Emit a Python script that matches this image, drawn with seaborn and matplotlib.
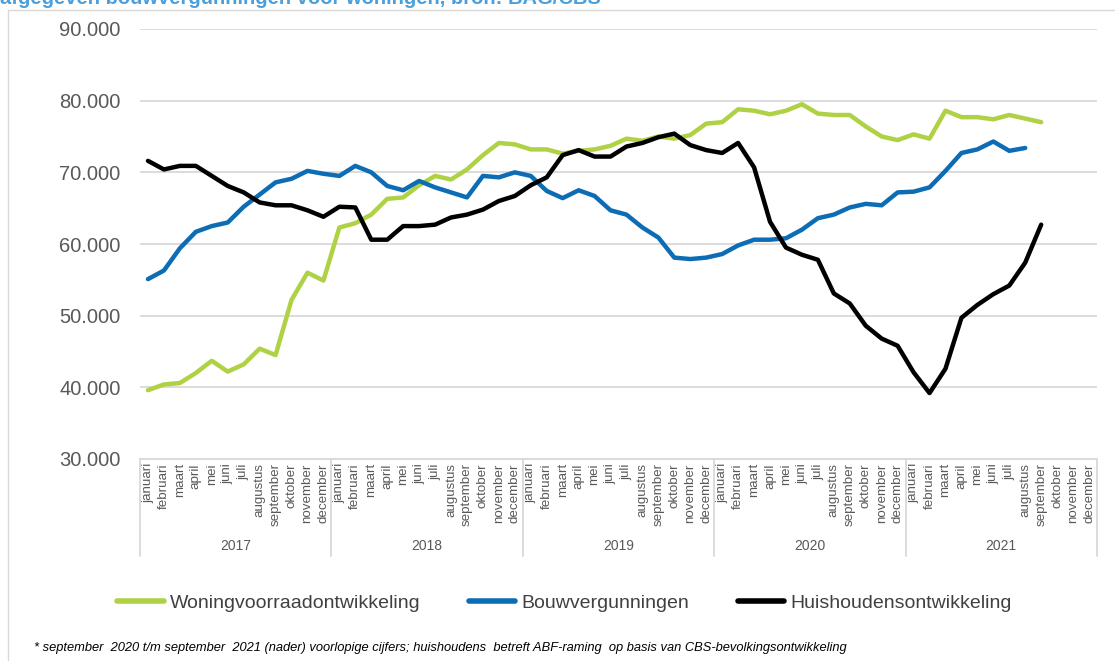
import matplotlib
matplotlib.use("Agg")
import matplotlib.pyplot as plt
import matplotlib.transforms as mtransforms
from matplotlib.lines import Line2D
from matplotlib.ticker import FuncFormatter
import numpy as np
import pandas as pd
import seaborn as sns

# data, in woningen (per maand, 2017 t/m 2021)
years = ["2017", "2018", "2019", "2020", "2021"]
months = ["januari", "februari", "maart", "april", "mei", "juni", "juli",
          "augustus", "september", "oktober", "november", "december"]

woningvoorraad = [39.6, 40.4, 40.6, 42.0, 43.7, 42.2, 43.2, 45.4, 44.5, 52.2, 56.0, 54.9,
                  62.3, 62.9, 64.1, 66.3, 66.5, 68.2, 69.5, 69.0, 70.4, 72.4, 74.1, 73.9,
                  73.2, 73.2, 72.6, 73.0, 73.2, 73.7, 74.7, 74.4, 75.0, 74.7, 75.2, 76.8,
                  77.0, 78.8, 78.6, 78.1, 78.6, 79.5, 78.2, 78.0, 78.0, 76.4, 75.0, 74.5,
                  75.3, 74.7, 78.6, 77.7, 77.7, 77.4, 78.0, 77.5, 77.0]
bouwvergunningen = [55.1, 56.3, 59.4, 61.7, 62.5, 63.0, 65.2, 66.9, 68.6, 69.1, 70.2, 69.8,
                    69.5, 70.9, 70.0, 68.1, 67.5, 68.8, 67.9, 67.2, 66.5, 69.5, 69.3, 70.0,
                    69.5, 67.4, 66.4, 67.5, 66.7, 64.7, 64.1, 62.3, 60.9, 58.1, 57.9, 58.1,
                    58.6, 59.8, 60.6, 60.6, 60.8, 62.0, 63.6, 64.1, 65.1, 65.6, 65.4, 67.2,
                    67.3, 67.9, 70.2, 72.7, 73.2, 74.3, 73.0, 73.4]
huishoudens = [71.6, 70.4, 70.9, 70.9, 69.5, 68.1, 67.2, 65.8, 65.4, 65.4, 64.7, 63.8,
               65.2, 65.1, 60.6, 60.6, 62.5, 62.5, 62.7, 63.7, 64.1, 64.8, 66.0, 66.7,
               68.2, 69.3, 72.4, 73.1, 72.2, 72.2, 73.6, 74.1, 74.9, 75.4, 73.8, 73.1,
               72.7, 74.1, 70.7, 63.1, 59.5, 58.5, 57.8, 53.1, 51.7, 48.6, 46.8, 45.8,
               42.1, 39.2, 42.6, 49.7, 51.5, 53.0, 54.2, 57.4, 62.7]

series = {
    "Woningvoorraadontwikkeling": woningvoorraad,
    "Bouwvergunningen": bouwvergunningen,
    "Huishoudensontwikkeling": huishoudens,
}
colors = {
    "Woningvoorraadontwikkeling": "#afd144",
    "Bouwvergunningen": "#0c6db4",
    "Huishoudensontwikkeling": "#000000",
}

rows = []
for name, vals in series.items():
    for i, v in enumerate(vals):
        rows.append({"maand": i, "aantal": v * 1000, "reeks": name})
df = pd.DataFrame(rows)

sns.set_theme(style="white")
plt.rcParams["font.family"] = ["Liberation Sans", "DejaVu Sans"]

W, H = 1115, 661
fig = plt.figure(figsize=(W / 100, H / 100), dpi=100)
ax = fig.add_axes([140 / W, 1 - 459 / H, 957 / W, 430 / H])

sns.lineplot(data=df, x="maand", y="aantal", hue="reeks", palette=colors,
             linewidth=3.2, ax=ax, legend=False)

n = len(years) * len(months)
ax.set_xlim(-0.5, n - 0.5)
ax.set_ylim(30000, 90000)
ax.set_yticks(np.arange(30000, 90001, 10000))
ax.yaxis.set_major_formatter(FuncFormatter(lambda v, p: f"{v:,.0f}".replace(",", ".")))
ax.grid(axis="y", color="#d9d9d9", linewidth=1.3)
ax.set_axisbelow(True)
ax.set_xlabel("")
ax.set_ylabel("")

ax.set_xticks(range(n))
ax.set_xticklabels(months * len(years), rotation=90, ha="center", va="top")
ax.tick_params(axis="x", length=0, pad=3, labelsize=9.6, labelcolor="#595959")
ax.tick_params(axis="y", length=0, pad=14, labelsize=14.5, labelcolor="#595959")

for s in ["top", "right", "left"]:
    ax.spines[s].set_visible(False)
ax.spines["bottom"].set_color("#d9d9d9")
ax.spines["bottom"].set_linewidth(1.3)

# year groups under the month labels
trans = mtransforms.blended_transform_factory(ax.transData, ax.transAxes)
for k in range(len(years) + 1):
    xb = k * 12 - 0.5
    ax.plot([xb, xb], [0, -0.225], transform=trans, color="#d9d9d9",
            linewidth=1.3, clip_on=False)
for k, yr in enumerate(years):
    ax.text(k * 12 + 5.5, -0.203, yr, transform=trans, ha="center", va="center",
            fontsize=10, color="#595959")

# legend
handles = [Line2D([], [], color=colors[name], linewidth=4) for name in series]
fig.legend(handles, list(series.keys()), loc="center", bbox_to_anchor=(0.506, 1 - 603 / H),
           ncol=3, frameon=False, fontsize=14, handlelength=2.4, handletextpad=0.3,
           columnspacing=2.5, labelcolor="#404040")

# partial title at top, frame, footnote
fig.text(0.0, 1 - 4 / H, "afgegeven bouwvergunningen voor woningen, bron: BAG/CBS",
         ha="left", va="baseline", fontsize=14.5, fontweight="bold", color="#4a9fdc")
fig.add_artist(Line2D([8 / W, 1], [1 - 10 / H, 1 - 10 / H], color="#d9d9d9", linewidth=1))
fig.add_artist(Line2D([8 / W, 8 / W], [0, 1 - 10 / H], color="#d9d9d9", linewidth=1))
fig.text(34 / W, 1 - 648 / H,
         "* september  2020 t/m september  2021 (nader) voorlopige cijfers; huishoudens  betreft "
         "ABF-raming  op basis van CBS-bevolkingsontwikkeling",
         ha="left", va="center", fontsize=9.3, fontstyle="italic", color="#000000")

fig.savefig("out.png", dpi=100)
